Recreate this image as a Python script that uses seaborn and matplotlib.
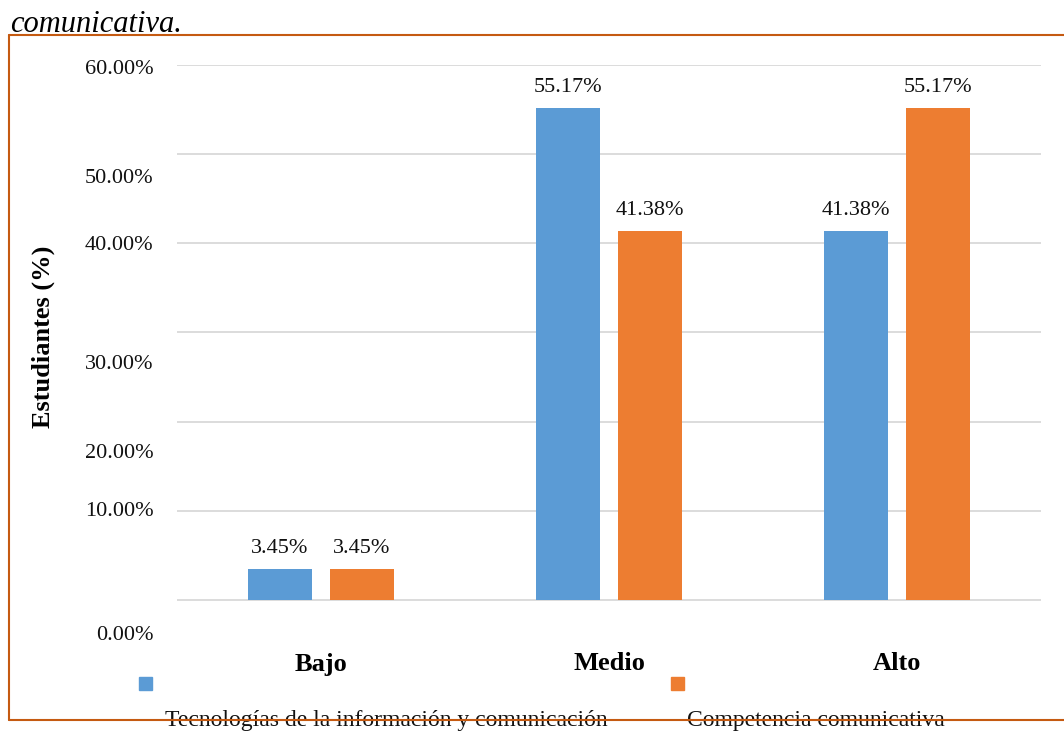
import matplotlib
matplotlib.use('Agg')
import matplotlib.pyplot as plt
import seaborn as sns
import pandas as pd
from matplotlib.patches import Rectangle
from matplotlib.lines import Line2D
from matplotlib.ticker import FixedLocator

# datos del gráfico
niveles = ['Bajo', 'Medio', 'Alto']
series = ['Tecnologías de la información y comunicación', 'Competencia comunicativa']
tic_valores = [3.45, 55.17, 41.38]
comp_valores = [3.45, 41.38, 55.17]
colores = ['#5B9BD5', '#ED7D31']

grid_valores = [0, 10, 20, 30, 40, 50, 60]
# las etiquetas del eje y aparecen desplazadas respecto a la cuadrícula en el original
etiqueta_pos = [-3.7, 10.2, 16.74, 26.69, 40.07, 47.55, 59.74]
etiqueta_txt = ['0.00%', '10.00%', '20.00%', '30.00%', '40.00%', '50.00%', '60.00%']

df = pd.DataFrame({
    'Nivel': niveles * 2,
    'Serie': [series[0]] * 3 + [series[1]] * 3,
    'Porcentaje': tic_valores + comp_valores,
})

sns.set_theme(style='white')
plt.rcParams['font.family'] = ['Liberation Serif', 'DejaVu Serif']

texto = '#111111'

fig = plt.figure(figsize=(10.64, 7.31), dpi=100)
ax = fig.add_axes([177 / 1064, 1 - 640 / 731, 864 / 1064, 575 / 731])

sns.barplot(data=df, x='Nivel', y='Porcentaje', hue='Serie', order=niveles,
            hue_order=series, palette=colores, width=0.57, gap=0.22,
            saturation=1, legend=False, linewidth=0, ax=ax, zorder=3)

for cont in ax.containers:
    ax.bar_label(cont, fmt='%.2f%%', padding=8, fontsize=16, color=texto)

ax.set_xlim(-0.5, 2.5)
ax.set_ylim(-4.5, 60)
ax.yaxis.set_major_locator(FixedLocator(etiqueta_pos))
ax.set_yticklabels(etiqueta_txt)
ax.yaxis.set_minor_locator(FixedLocator(grid_valores))
ax.grid(False)
ax.grid(which='minor', axis='y', color='#D9D9D9', linewidth=1.3, zorder=0)
ax.tick_params(axis='y', which='both', length=0, pad=17, labelsize=16, labelcolor=texto)
ax.tick_params(axis='x', length=0, pad=9, labelsize=19)
for t in ax.get_xticklabels():
    t.set_fontweight('bold')
    t.set_color('black')
for s in ax.spines.values():
    s.set_visible(False)

ax.set_xlabel('')
ax.set_ylabel('Estudiantes (%)', fontsize=19, fontweight='bold', color='black')
ax.yaxis.set_label_coords(-0.141, 0.527)

# leyenda dibujada a mano (marcador arriba, texto abajo como en el original)
fig.add_artist(Rectangle((139 / 1064, 1 - 690 / 731), 13 / 1064, 13 / 731,
                         transform=fig.transFigure, color=colores[0]))
fig.add_artist(Rectangle((671 / 1064, 1 - 690 / 731), 13 / 1064, 13 / 731,
                         transform=fig.transFigure, color=colores[1]))
fig.text(165 / 1064, 1 - 726 / 731, series[0], fontsize=17, va='baseline', ha='left', color=texto)
fig.text(687 / 1064, 1 - 726 / 731, series[1], fontsize=17, va='baseline', ha='left', color=texto)

# título cortado arriba
fig.text(10 / 1064, 1 - 32 / 731, 'comunicativa.', fontsize=22, style='italic',
         va='baseline', ha='left', color='black')

# marco naranja del gráfico
borde = '#C55A11'
fig.add_artist(Line2D([9 / 1064, 9 / 1064], [1 - 35 / 731, 1 - 720 / 731],
                      transform=fig.transFigure, color=borde, linewidth=1.5, zorder=10))
fig.add_artist(Line2D([9 / 1064, 1], [1 - 35 / 731, 1 - 35 / 731],
                      transform=fig.transFigure, color=borde, linewidth=1.5, zorder=10))
fig.add_artist(Line2D([9 / 1064, 1], [1 - 720 / 731, 1 - 720 / 731],
                      transform=fig.transFigure, color=borde, linewidth=1.5, zorder=10))

fig.savefig('out.png', dpi=100)
